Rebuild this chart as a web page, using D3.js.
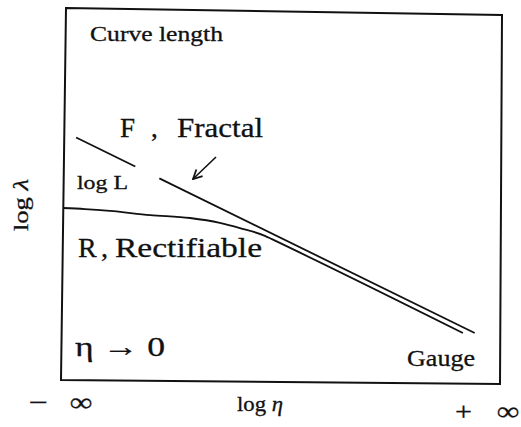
<!DOCTYPE html>
<html>
<head>
<meta charset="utf-8">
<script src="https://cdn.jsdelivr.net/npm/d3@7"></script>
<style>
  html, body { margin: 0; padding: 0; background: #fff; }
  svg { display: block; }
  text { font-family: "Liberation Serif", "DejaVu Serif", serif; fill: #111; stroke: #111; stroke-width: 0.3px; }
</style>
</head>
<body>
<svg id="chart" width="521" height="427"></svg>
<script>
// Schematic log-log plot of measured curve length versus gauge size.
// Units on both axes are arbitrary (0..100 across the frame).

// Fractal curve F: straight line, broken where the "log L" label sits
const fractalSegA_x = [3, 16.5];
const fractalSegA_y = [65.9, 58.1];
const fractalSegB_x = [22, 94];
const fractalSegB_y = [54.9, 13.2];

// Rectifiable curve R: plateau at log L, then merges along the fractal slope
const rectX = [0, 5, 10.7, 19.9, 29, 35.8, 40.4, 46.1, 47.7, 91.3];
const rectY = [46.9, 46.6, 46.1, 45.0, 44.2, 42.9, 41.5, 39.4, 38.5, 13.2];

// Axis end labels
const xEndLabels = ["\u2212", "\u221E", "+", "\u221E"];
const xTitle = ["log ", "\u03B7"];
const yTitle = ["log ", "\u03BB"];

const svg = d3.select("#chart");

const x = d3.scaleLinear().domain([0, 100]).range([63, 501]);
const y = d3.scaleLinear().domain([0, 100]).range([382, 11]);

// Frame (slightly skewed, as the printed figure)
svg.append("path")
  .attr("d", "M66,8 L502,15 L500,384 L61,380 Z")
  .attr("fill", "none")
  .attr("stroke", "#111")
  .attr("stroke-width", 2);

const smooth = d3.line().x(d => x(d[0])).y(d => y(d[1])).curve(d3.curveMonotoneX);
const straight = d3.line().x(d => x(d[0])).y(d => y(d[1]));

function drawLine(xs, ys, curved) {
  const pts = xs.map((v, i) => [v, ys[i]]);
  svg.append("path")
    .attr("d", (curved ? smooth : straight)(pts))
    .attr("fill", "none")
    .attr("stroke", "#111")
    .attr("stroke-width", 1.8);
}

drawLine(fractalSegA_x, fractalSegA_y, false);
drawLine(fractalSegB_x, fractalSegB_y, false);
drawLine(rectX, rectY, true);

// Arrow pointing at the fractal line
svg.append("defs").append("marker")
  .attr("id", "head")
  .attr("viewBox", "0 0 10 10")
  .attr("refX", 9).attr("refY", 5)
  .attr("markerWidth", 7).attr("markerHeight", 7)
  .attr("orient", "auto")
  .append("path")
  .attr("d", "M1,1 L9,5 L1,9")
  .attr("fill", "none")
  .attr("stroke", "#111")
  .attr("stroke-width", 1.6);

svg.append("line")
  .attr("x1", 216).attr("y1", 157)
  .attr("x2", 193).attr("y2", 179)
  .attr("stroke", "#111").attr("stroke-width", 1.6)
  .attr("marker-end", "url(#head)");

function label(txt, px, py, size, len) {
  const t = svg.append("text")
    .attr("x", px).attr("y", py)
    .attr("font-size", size)
    .text(txt);
  if (len) t.attr("textLength", len).attr("lengthAdjust", "spacingAndGlyphs");
  return t;
}

label("Curve length", 90, 41, 21, 133);
label("F", 120, 137, 27);
label(",", 151, 137, 27);
label("Fractal", 177, 137, 27, 86);
label("log L", 77, 189, 19, 51);
label("R", 78, 257, 28);
label(",", 101, 257, 28);
label("Rectifiable", 115, 257, 28, 147);
label("\u03B7 \u2192 0", 75, 356, 28, 90);
label("Gauge", 407, 366, 23, 68);

// Axis ends and titles
label(xEndLabels[0], 29, 411, 26, 19);
label(xEndLabels[1], 70, 411, 26, 22).attr("font-weight", "bold");
label(xEndLabels[2], 455, 420, 26, 17);
label(xEndLabels[3], 497, 420, 26, 22).attr("font-weight", "bold");

const xt = svg.append("text")
  .attr("x", 237).attr("y", 411)
  .attr("font-size", 20)
  .attr("textLength", 46).attr("lengthAdjust", "spacingAndGlyphs");
xt.append("tspan").text(xTitle[0]);
xt.append("tspan").attr("font-style", "italic").text(xTitle[1]);

const yt = svg.append("text")
  .attr("transform", "translate(28,205) rotate(-90)")
  .attr("text-anchor", "middle")
  .attr("font-size", 20)
  .attr("textLength", 52).attr("lengthAdjust", "spacingAndGlyphs");
yt.append("tspan").text(yTitle[0]);
yt.append("tspan").attr("font-style", "italic").text(yTitle[1]);
</script>
</body>
</html>
